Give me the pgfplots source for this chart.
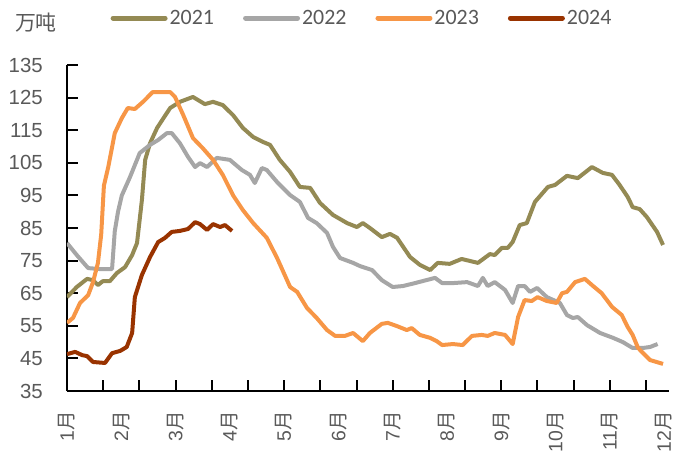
\documentclass[border=0pt]{standalone}
\usepackage{fontspec}
\setmainfont{Liberation Sans}
\newfontfamily\cjk{Noto Sans CJK SC}
\newfontfamily\legfont{Carlito}
\usepackage{pgfplots}
\pgfplotsset{compat=1.18}
\definecolor{c21}{HTML}{948A54}
\definecolor{c22}{HTML}{A6A6A6}
\definecolor{c23}{HTML}{F79646}
\definecolor{c24}{HTML}{993300}
\definecolor{txt}{HTML}{595959}
\begin{document}
\begin{tikzpicture}
\begin{axis}[
  scale only axis, width=602bp, height=326bp,
  xmin=0, xmax=11.09, ymin=35, ymax=135,
  axis x line*=bottom, axis y line*=left,
  axis line style={-, line width=1.4bp, black},
  ytick={35,45,...,135},
  xtick={0.6667,1.3333,2,2.6667,3.3333,4,4.6667,5.3333,6,6.6667,7.3333,8,8.6667,9.3333,10,10.6667},
  xticklabels={},
  extra x ticks={0,1,2,3,4,5,6,7,8,9,10,11},
  extra x tick labels={1{\cjk 月},2{\cjk 月},3{\cjk 月},4{\cjk 月},5{\cjk 月},6{\cjk 月},7{\cjk 月},8{\cjk 月},9{\cjk 月},10{\cjk 月},11{\cjk 月},12{\cjk 月}},
  extra x tick style={major tick length=0pt},
  tick align=inside,
  major tick length=11bp,
  every tick/.style={black, line width=2bp},
  /pgf/number format/assume math mode=true,
  yticklabel style={anchor=east, inner sep=0pt, font=\fontsize{20.5}{22}\selectfont, text=txt},
  yticklabel shift=24bp,
  xticklabel style={rotate=90, anchor=east, inner sep=0pt, font=\fontsize{19.5}{21}\selectfont, text=txt},
  xticklabel shift=20bp,
  legend columns=4,
  legend style={at={(0.49,1.144)}, anchor=center, draw=none, fill=none,
    font=\legfont\fontsize{22}{24}\selectfont, text=txt,
    /tikz/every even column/.append style={column sep=27bp},
    nodes={inner sep=2bp}},
  legend cell align=left,
  legend image code/.code={\draw[#1, line width=5bp, line cap=round] (0bp,0bp) -- (52bp,0bp);},
  every axis plot/.append style={line width=4bp, line join=round, mark=none},
]
\addplot[c21] coordinates {(0,63.8)(0.18,66.9)(0.37,69.4)(0.48,69.0)(0.57,67.5)(0.66,68.7)(0.79,68.7)(0.92,71.2)(1.07,73.0)(1.20,76.7)(1.29,80.4)(1.38,93.6)(1.44,105.9)(1.53,111.0)(1.66,115.7)(1.75,118.0)(1.90,121.8)(2.08,123.7)(2.32,125.2)(2.54,123.0)(2.69,123.7)(2.87,122.7)(3.06,119.6)(3.24,115.7)(3.43,112.9)(3.61,111.4)(3.74,110.5)(3.92,105.9)(4.11,102.2)(4.29,97.6)(4.48,97.3)(4.66,92.7)(4.90,89.0)(5.16,86.5)(5.34,85.3)(5.45,86.5)(5.58,85.0)(5.80,82.2)(5.95,83.2)(6.08,82.0)(6.32,76.1)(6.50,73.7)(6.69,72.1)(6.83,74.3)(7.05,74.0)(7.27,75.5)(7.57,74.3)(7.79,77.0)(7.88,76.7)(8.01,78.9)(8.12,78.9)(8.21,80.7)(8.34,85.9)(8.47,86.5)(8.62,93.0)(8.86,97.6)(8.99,98.2)(9.21,101.0)(9.41,100.3)(9.67,103.7)(9.87,101.9)(10.04,101.3)(10.18,98.2)(10.33,94.5)(10.42,91.4)(10.55,90.8)(10.68,88.4)(10.87,83.8)(10.98,79.8)};
\addlegendentry{2021}
\addplot[c22] coordinates {(0,80.4)(0.18,76.7)(0.39,72.7)(0.61,72.4)(0.83,72.4)(0.88,84.0)(0.94,90.0)(1.01,95.0)(1.16,100.6)(1.34,108.0)(1.53,110.5)(1.68,112.0)(1.84,114.1)(1.93,114.1)(2.08,111.0)(2.23,106.8)(2.36,103.7)(2.45,104.9)(2.58,103.7)(2.76,106.5)(3.00,105.9)(3.22,102.8)(3.37,101.3)(3.46,98.8)(3.59,103.4)(3.68,102.8)(3.87,99.1)(4.11,95.1)(4.29,93.0)(4.44,88.1)(4.60,86.5)(4.79,83.5)(4.90,79.2)(5.03,75.8)(5.27,74.3)(5.40,73.3)(5.62,72.1)(5.80,69.0)(6.00,66.9)(6.19,67.2)(6.41,68.1)(6.78,69.7)(6.91,68.1)(7.11,68.1)(7.37,68.4)(7.57,67.2)(7.66,69.7)(7.75,67.2)(7.88,68.4)(8.07,66.0)(8.21,62.0)(8.31,67.2)(8.43,67.2)(8.53,65.4)(8.66,66.6)(8.84,63.8)(9.08,62.0)(9.21,58.3)(9.32,57.4)(9.41,57.7)(9.58,55.2)(9.82,52.8)(10.06,51.3)(10.24,50.0)(10.42,48.2)(10.61,48.2)(10.74,48.5)(10.88,49.4)};
\addlegendentry{2022}
\addplot[c23] coordinates {(0,55.9)(0.11,57.4)(0.24,62.0)(0.39,64.4)(0.48,68.4)(0.57,74.3)(0.63,83.0)(0.68,98.0)(0.76,103.7)(0.88,114.1)(1.01,118.7)(1.12,121.8)(1.25,121.5)(1.40,123.7)(1.58,126.7)(1.90,126.7)(1.99,125.2)(2.14,119.7)(2.32,112.6)(2.50,109.5)(2.69,105.9)(2.87,101.3)(3.06,95.0)(3.24,90.5)(3.43,86.5)(3.68,82.0)(3.87,75.8)(4.11,66.9)(4.24,65.4)(4.42,60.5)(4.60,57.4)(4.79,53.7)(4.94,51.9)(5.12,51.9)(5.27,52.8)(5.45,50.3)(5.58,52.8)(5.80,55.6)(5.91,55.9)(6.08,54.9)(6.26,53.7)(6.35,54.3)(6.50,52.2)(6.69,51.3)(6.81,50.3)(6.91,49.1)(7.11,49.4)(7.29,49.1)(7.46,51.9)(7.64,52.2)(7.75,51.9)(7.88,52.8)(8.07,52.2)(8.21,49.4)(8.31,57.7)(8.43,62.9)(8.56,62.6)(8.67,63.8)(8.84,62.6)(9.02,62.0)(9.12,65.0)(9.21,65.4)(9.36,68.4)(9.54,69.4)(9.67,67.5)(9.85,65.0)(10.04,60.8)(10.22,58.3)(10.33,54.6)(10.42,52.2)(10.52,48.2)(10.74,44.5)(10.98,43.3)};
\addlegendentry{2023}
\addplot[c24] coordinates {(0,46.3)(0.15,47.0)(0.28,46.0)(0.37,45.7)(0.48,43.9)(0.70,43.6)(0.83,46.6)(0.98,47.3)(1.10,48.5)(1.20,52.8)(1.25,63.8)(1.38,70.6)(1.53,76.1)(1.68,80.7)(1.80,81.9)(1.93,83.8)(2.08,84.1)(2.23,84.7)(2.36,86.8)(2.45,86.2)(2.58,84.4)(2.69,86.2)(2.82,85.3)(2.91,85.9)(3.04,84.1)};
\addlegendentry{2024}
\end{axis}
\node[text=txt, font=\cjk\fontsize{21}{23}\selectfont, inner sep=0pt] at (-31bp,368bp) {万吨};
\path[use as bounding box] (-67bp,-66bp) rectangle (610bp,391bp);
\end{tikzpicture}
\end{document}
